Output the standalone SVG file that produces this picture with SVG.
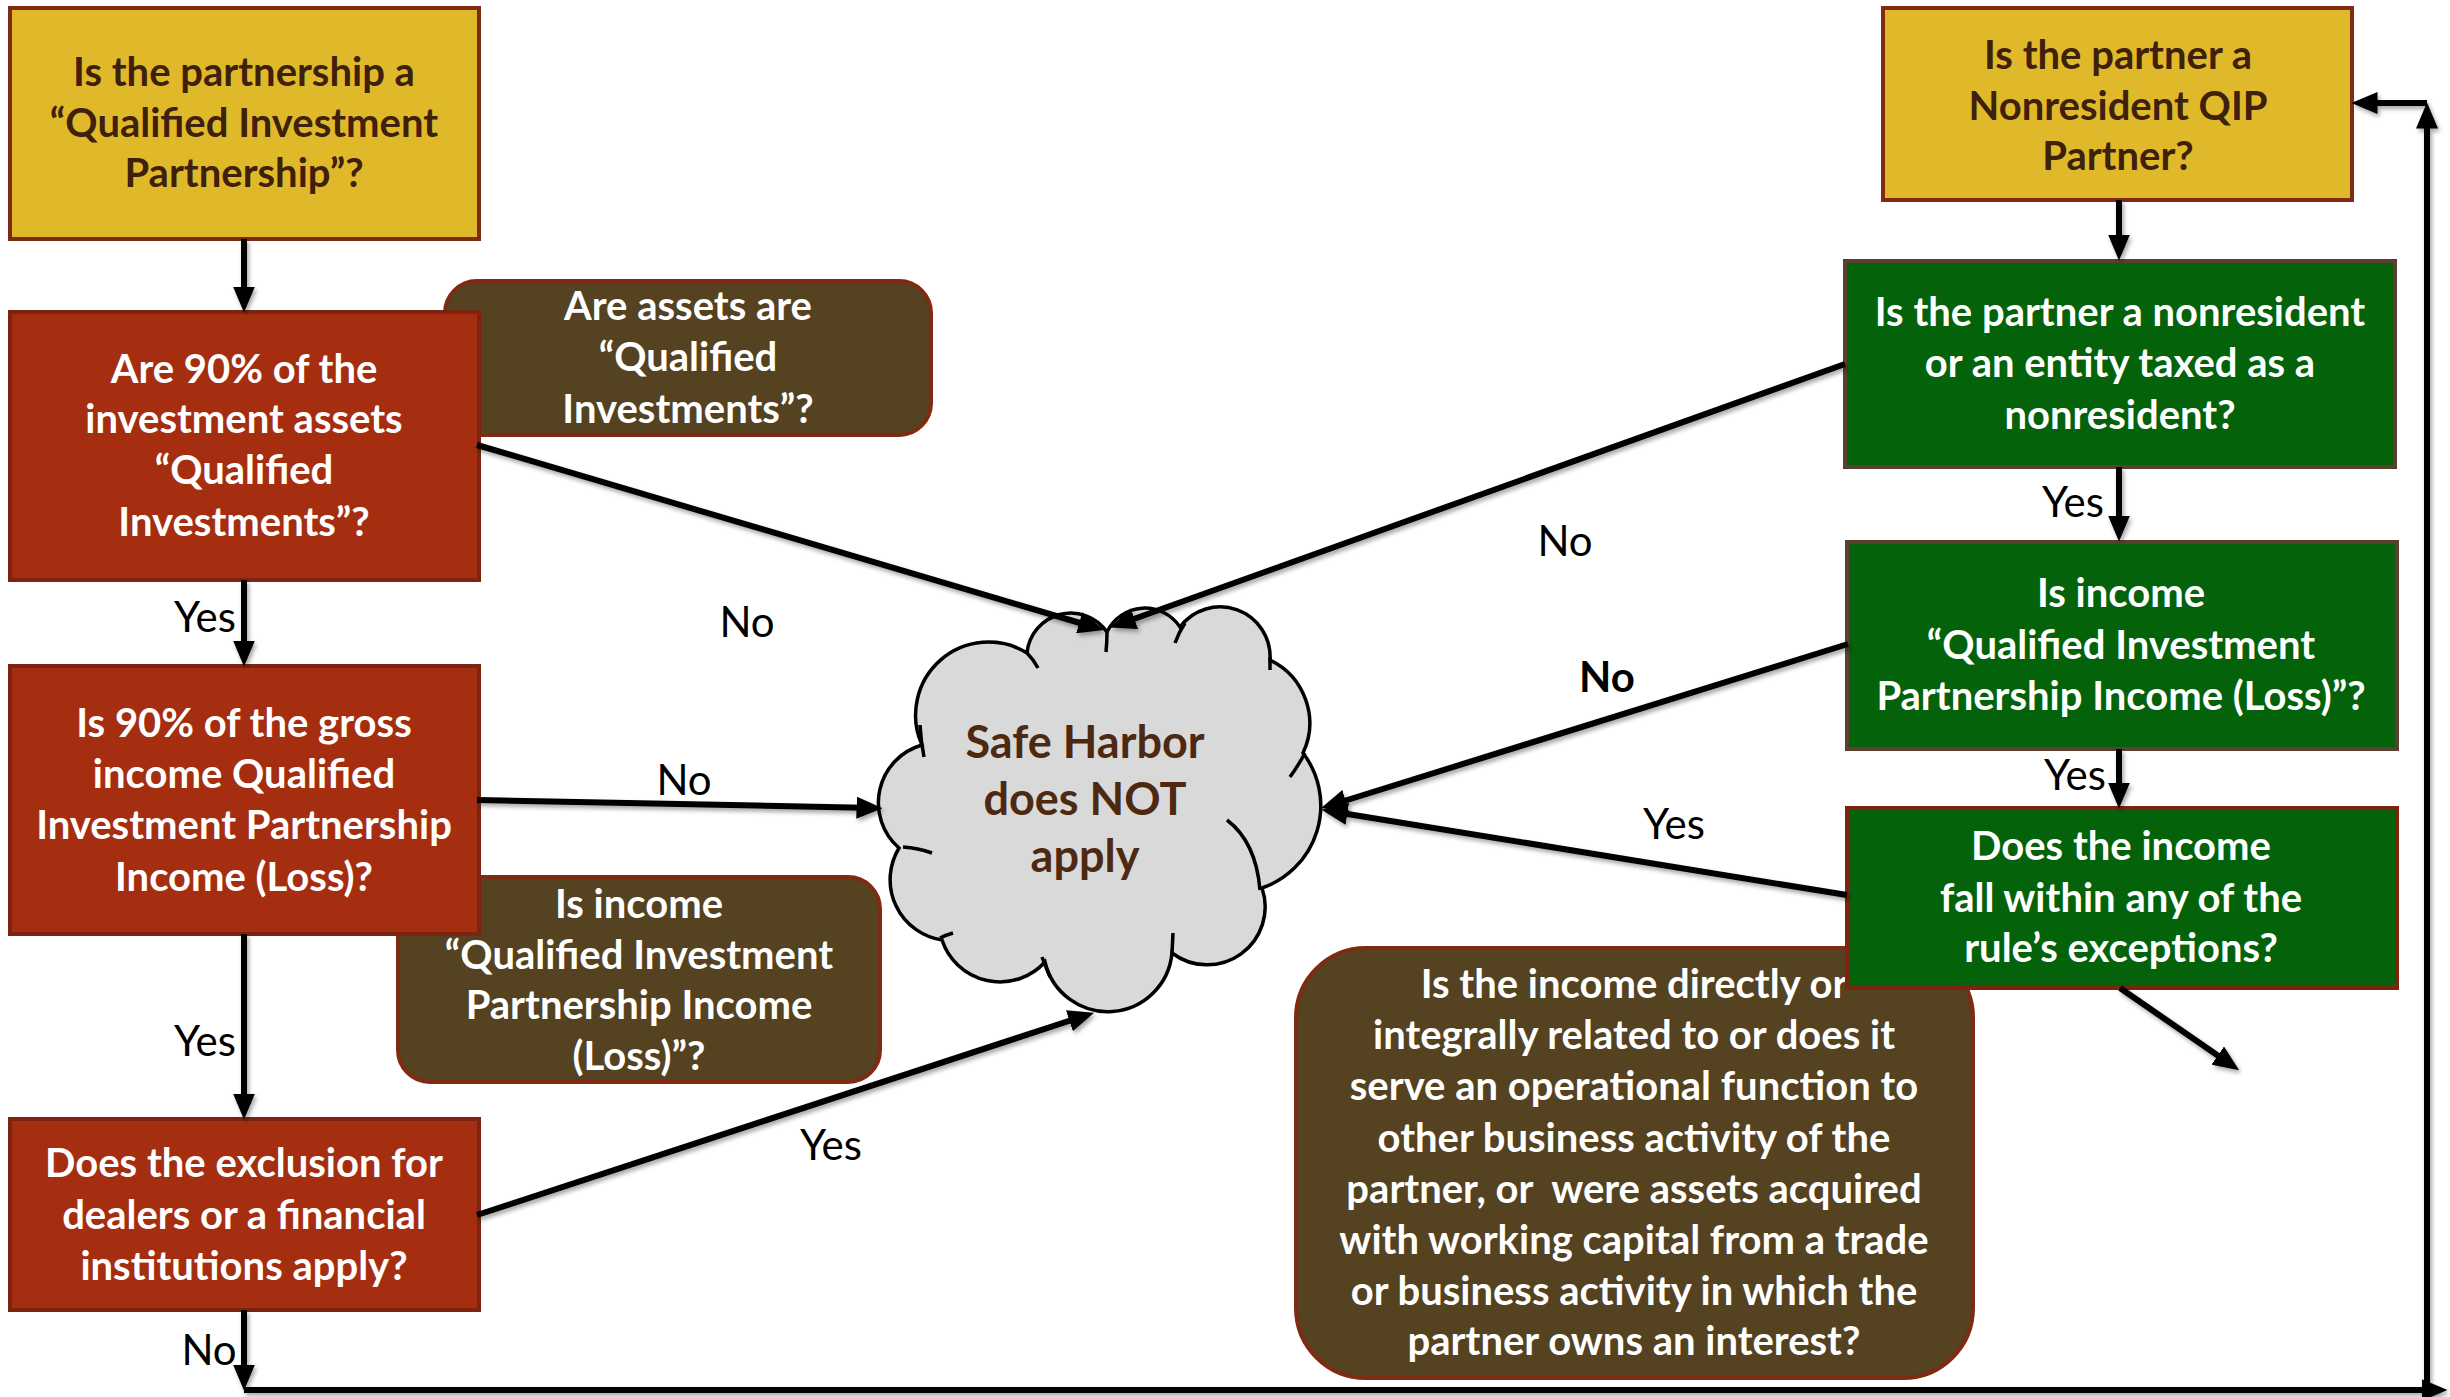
<svg xmlns="http://www.w3.org/2000/svg" width="2450" height="1397" viewBox="0 0 2450 1397">
<defs>
<style>
.t{font-family:Lato,"Liberation Sans",sans-serif;font-weight:bold;font-size:40px;text-anchor:middle}
.w{fill:#ffffff}
.dk{fill:#3f200a}
.lbl{font-family:Lato,"Liberation Sans",sans-serif;font-size:42px;fill:#000;text-anchor:middle}
.yel{fill:#e0b92b;stroke:#7f2a12;stroke-width:4}
.red{fill:#a52e10;stroke:#7c2410;stroke-width:4}
.note{fill:#544220;stroke:#7f2a12;stroke-width:4}
.grn{fill:#03620a;stroke:#5b4030;stroke-width:4}
.grn2{fill:#03620a;stroke:#7c2410;stroke-width:4}
.ln{fill:none;stroke:#000;stroke-width:6;marker-end:url(#ah)}
.cl{fill:#d9d9d9;stroke:#000;stroke-width:3.5}
.ci{fill:none;stroke:#000;stroke-width:3.5}
</style>
<marker id="ah" markerUnits="userSpaceOnUse" viewBox="0 0 26 22" markerWidth="26" markerHeight="22" refX="18.5" refY="11" orient="auto">
<path d="M0,0 L26,11 L0,22 z" fill="#000"/>
</marker>
<filter id="sh" x="-5%" y="-5%" width="110%" height="110%">
<feDropShadow dx="2" dy="3" stdDeviation="2" flood-color="#000" flood-opacity="0.35"/>
</filter>
</defs>
<rect width="2450" height="1397" fill="#fff"/>

<g id="note-assets">
<rect class="note" x="445" y="281" width="486" height="154" rx="32"/>
<text class="t w"><tspan x="688" y="320">Are assets are</tspan><tspan x="688" y="371">“Qualified</tspan><tspan x="688" y="423">Investments”?</tspan></text>
</g>
<g id="note-income">
<rect class="note" x="398" y="877" width="482" height="205" rx="32"/>
<text class="t w"><tspan x="639" y="918">Is income</tspan><tspan x="639" y="969">“Qualified Investment</tspan><tspan x="639" y="1019">Partnership Income</tspan><tspan x="639" y="1070">(Loss)”?</tspan></text>
</g>
<g id="note-operational">
<rect class="note" x="1296" y="948" width="677" height="430" rx="70"/>
<text class="t w" style="white-space:pre"><tspan x="1634" y="998">Is the income directly or</tspan><tspan x="1634" y="1049">integrally related to or does it</tspan><tspan x="1634" y="1100">serve an operational function to</tspan><tspan x="1634" y="1152">other business activity of the</tspan><tspan x="1634" y="1203">partner, or  were assets acquired</tspan><tspan x="1634" y="1254">with working capital from a trade</tspan><tspan x="1634" y="1305">or business activity in which the</tspan><tspan x="1634" y="1355">partner owns an interest?</tspan></text>
</g>

<g id="q-qip">
<rect class="yel" x="10" y="8" width="469" height="231"/>
<text class="t dk"><tspan x="244" y="86">Is the partnership a</tspan><tspan x="244" y="137">“Qualified Investment</tspan><tspan x="244" y="187">Partnership”?</tspan></text>
</g>
<g id="q-assets">
<rect class="red" x="10" y="312" width="469" height="268"/>
<text class="t w"><tspan x="244" y="383">Are 90% of the</tspan><tspan x="244" y="433">investment assets</tspan><tspan x="244" y="484">“Qualified</tspan><tspan x="244" y="536">Investments”?</tspan></text>
</g>
<g id="q-income">
<rect class="red" x="10" y="666" width="469" height="268"/>
<text class="t w"><tspan x="244" y="737">Is 90% of the gross</tspan><tspan x="244" y="788">income Qualified</tspan><tspan x="244" y="839">Investment Partnership</tspan><tspan x="244" y="891">Income (Loss)?</tspan></text>
</g>
<g id="q-dealers">
<rect class="red" x="10" y="1119" width="469" height="191"/>
<text class="t w"><tspan x="244" y="1177">Does the exclusion for</tspan><tspan x="244" y="1229">dealers or a financial</tspan><tspan x="244" y="1280">institutions apply?</tspan></text>
</g>

<g id="q-partner">
<rect class="yel" x="1883" y="8" width="469" height="192"/>
<text class="t dk"><tspan x="2118" y="69">Is the partner a</tspan><tspan x="2118" y="120">Nonresident QIP</tspan><tspan x="2118" y="170">Partner?</tspan></text>
</g>
<g id="q-nonresident">
<rect class="grn" x="1845" y="261" width="550" height="206"/>
<text class="t w"><tspan x="2120" y="326">Is the partner a nonresident</tspan><tspan x="2120" y="377">or an entity taxed as a</tspan><tspan x="2120" y="429">nonresident?</tspan></text>
</g>
<g id="q-qipincome">
<rect class="grn" x="1847" y="542" width="550" height="207"/>
<text class="t w"><tspan x="2121" y="607">Is income</tspan><tspan x="2121" y="659">“Qualified Investment</tspan><tspan x="2121" y="710">Partnership Income (Loss)”?</tspan></text>
</g>
<g id="q-exceptions">
<rect class="grn2" x="1847" y="808" width="550" height="180"/>
<text class="t w"><tspan x="2121" y="860">Does the income</tspan><tspan x="2121" y="912">fall within any of the</tspan><tspan x="2121" y="962">rule’s exceptions?</tspan></text>
</g>

<g id="safe-harbor">
<path class="cl" d="M899,848 A60,60 0 0 1 922,745 A73,73 0 0 1 1027,653 A44,44 0 0 1 1107,632 A42,42 0 0 1 1180,627 A50,50 0 0 1 1270,660 A70,70 0 0 1 1303,753 A87,87 0 0 1 1262,888 A58,58 0 0 1 1172,953 A64.5,64.5 0 0 1 1045,962 A61,61 0 0 1 942,940 A61,61 0 0 1 899,848 Z"/>
<path class="ci" d="M920,725 Q921,742 924,757 M903,847 Q918,848 932,853 M1027,653 Q1034,660 1038,668 M1107,632 Q1107,642 1106,652 M1185,623 Q1179,632 1175,643 M1270,657 L1270,670 M1305,753 Q1298,766 1290,777 M1227,820 Q1256,842 1260,890 M1173,933 L1172,953 M1042,957 Q1046,968 1050,977 M940,938 Q946,935 953,933"/>
<text class="t" style="font-size:45px;fill:#4e2912"><tspan x="1085" y="758">Safe Harbor</tspan><tspan x="1085" y="815">does NOT</tspan><tspan x="1085" y="872">apply</tspan></text>
</g>

<g id="connectors" filter="url(#sh)">
<line class="ln" x1="244" y1="239" x2="244" y2="305"/>
<line class="ln" x1="244" y1="580" x2="244" y2="659"/>
<line class="ln" x1="244" y1="934" x2="244" y2="1112"/>
<line class="ln" x1="244" y1="1310" x2="244" y2="1383"/>
<line class="ln" x1="244" y1="1390" x2="2440" y2="1390"/>
<line class="ln" x1="2427" y1="1390" x2="2427" y2="110"/>
<line class="ln" x1="2427" y1="103" x2="2359" y2="103"/>
<line class="ln" x1="2119" y1="200" x2="2119" y2="253"/>
<line class="ln" x1="2119" y1="467" x2="2119" y2="534"/>
<line class="ln" x1="2119" y1="749" x2="2119" y2="801"/>
<line class="ln" x1="2120" y1="988" x2="2233" y2="1066"/>
<line class="ln" x1="477" y1="445" x2="1097" y2="628"/>
<line class="ln" x1="1845" y1="364" x2="1117" y2="625"/>
<line class="ln" x1="477" y1="800" x2="875" y2="808"/>
<line class="ln" x1="477" y1="1215" x2="1087" y2="1015"/>
<line class="ln" x1="1848" y1="644" x2="1328" y2="806"/>
<line class="ln" x1="1847" y1="895" x2="1329" y2="811"/>
</g>

<g id="labels">
<text class="lbl" x="205" y="632">Yes</text>
<text class="lbl" x="205" y="1056">Yes</text>
<text class="lbl" x="209" y="1365">No</text>
<text class="lbl" x="747" y="637">No</text>
<text class="lbl" x="684" y="795">No</text>
<text class="lbl" x="831" y="1160">Yes</text>
<text class="lbl" x="1565" y="556">No</text>
<text class="lbl" x="1607" y="692" style="font-weight:bold">No</text>
<text class="lbl" x="1674" y="839">Yes</text>
<text class="lbl" x="2073" y="517">Yes</text>
<text class="lbl" x="2075" y="790">Yes</text>
</g>
</svg>
